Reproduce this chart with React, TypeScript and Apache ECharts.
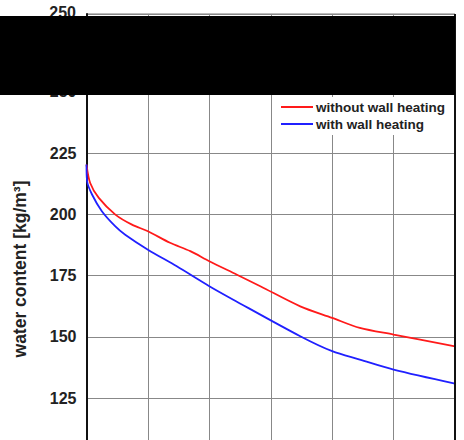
import React, { useEffect, useRef } from "react";
import * as echarts from "echarts";

const seriesNames = ["without wall heating", "with wall heating"];
const redX = [0, 0.06, 0.2, 0.47, 0.74, 1.0, 1.36, 1.69, 2.0, 2.45, 2.83, 3.48, 4.0, 4.45, 5.0, 6.0];
const redY = [220.3, 212.8, 206.7, 199.9, 195.8, 193.1, 188.4, 185, 180.9, 175.4, 170.7, 162.5, 157.8, 153.7, 151, 146.2];
const blueX = [0, 0.01, 0.09, 0.25, 0.47, 0.63, 1.0, 1.47, 2.0, 2.39, 3.48, 4.0, 4.45, 5.0, 6.0];
const blueY = [220.3, 213.5, 208.1, 201.3, 195.1, 191.7, 185.6, 178.8, 170.7, 165.2, 150.3, 144.2, 140.8, 136.7, 131];
const yTicks = [125, 150, 175, 200, 225, 250, 275];
const topLabel = "250";
const yName = "water content [kg/m³]";

export default function App() {
  const ref = useRef<HTMLDivElement>(null);
  useEffect(() => {
    if (!ref.current) return;
    const chart = echarts.init(ref.current, null, { renderer: "svg" });
    const font = "'Liberation Sans', Arial, sans-serif";
    chart.setOption({
      animation: false,
      backgroundColor: "#fff",
      grid: { left: 86.5, right: 9, top: 14, bottom: 0.4, show: true, borderColor: "#777", borderWidth: 1 },
      legend: {
        right: 15,
        top: 97,
        orient: "vertical",
        backgroundColor: "#fff",
        padding: [3, 4, 4, 4],
        itemGap: 3,
        icon: "rect",
        itemWidth: 32,
        itemHeight: 2,
        textStyle: { fontFamily: font, fontWeight: "bold", fontSize: 13.5, color: "#222", padding: [0, 0, 0, -2] },
        data: seriesNames,
      },
      xAxis: {
        type: "value",
        min: 0,
        max: 6,
        interval: 1,
        axisLine: { show: false },
        axisTick: { show: false },
        axisLabel: { show: false },
        splitLine: { show: true, lineStyle: { color: "#888", width: 1 } },
      },
      yAxis: {
        type: "value",
        min: 100,
        max: 281.7,
        interval: 25,
        axisLine: { show: true, lineStyle: { color: "#111", width: 2 } },
        axisTick: { show: false },
        axisLabel: {
          margin: 10,
          fontFamily: font,
          fontWeight: "bold",
          fontSize: 16,
          color: "#222",
          formatter: (v: number) => (yTicks.includes(v) ? String(v) : ""),
        },
        splitLine: { show: true, lineStyle: { color: "#888", width: 1 } },
      },
      graphic: [
        { type: "line", shape: { x1: 455, y1: 14, x2: 455, y2: 460 }, style: { stroke: "#111", lineWidth: 2 }, z: 50 },
        { type: "rect", shape: { x: 0, y: 16, width: 455, height: 79 }, style: { fill: "#000" }, z: 100 },
        {
          type: "text",
          x: 76,
          y: 12,
          style: { text: topLabel, align: "right", verticalAlign: "middle", font: `bold 16px ${font}`, fill: "#222" },
          z: 99,
        },
        {
          type: "text",
          x: 20,
          y: 269,
          rotation: Math.PI / 2,
          style: { text: yName, align: "center", verticalAlign: "middle", font: `bold 17.5px ${font}`, fill: "#222" },
          z: 99,
        },
      ],
      series: [
        {
          name: seriesNames[0],
          type: "line",
          smooth: 0.3,
          showSymbol: false,
          lineStyle: { color: "#ff1a1a", width: 1.8 },
          itemStyle: { color: "#ff1a1a" },
          data: redX.map((x, i) => [x, redY[i]]),
        },
        {
          name: seriesNames[1],
          type: "line",
          smooth: 0.3,
          showSymbol: false,
          lineStyle: { color: "#2020ff", width: 1.8 },
          itemStyle: { color: "#2020ff" },
          data: blueX.map((x, i) => [x, blueY[i]]),
        },
      ],
    });
    return () => chart.dispose();
  }, []);
  return (
    <div style={{ position: "fixed", left: 0, top: 0, width: 464, height: 440, overflow: "hidden" }}>
      <div ref={ref} style={{ width: 464, height: 460 }} />
    </div>
  );
}
